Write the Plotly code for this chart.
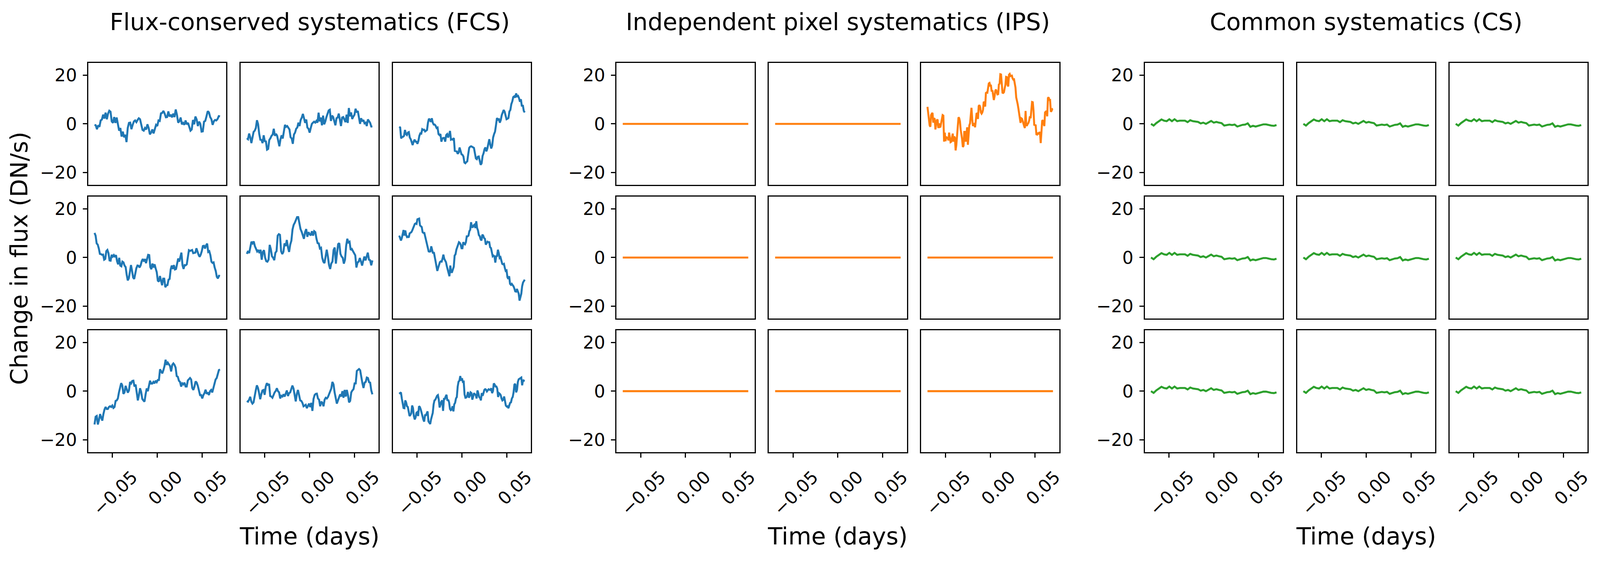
import numpy as np
import plotly.graph_objects as go

# ---------------- data ----------------
group_titles = ["Flux-conserved systematics (FCS)",
                "Independent pixel systematics (IPS)",
                "Common systematics (CS)"]
x_tick_vals = [-0.05, 0.0, 0.05]
y_tick_vals = [-20, 0, 20]
t_start, t_end = -0.07, 0.07

fcs_r1c1 = [-0.4,-0.6,-2.2,-0.6,-1.2,1.4,1.8,3.8,2.2,4.6,1.9,4.2,5.4,5.0,1.0,0.4,2.8,0.4,2.6,-0.6,-2.8,-1.7,-5.2,-3.2,-5.5,-4.5,-7.5,-1.7,0.4,0.5,-2.2,-0.4,1.0,1.4,0.7,1.6,2.3,1.9,-0.6,-2.5,-2.8,-1.7,-2.3,-0.2,-1.7,-4.3,-3.6,-2.3,-3.9,-2.0,-0.4,-0.9,1.4,1.2,4.3,4.5,5.3,4.2,2.7,2.8,5.1,3.0,3.8,2.7,4.2,2.8,5.9,3.7,0.5,1.1,2.6,-0.2,0.4,-0.4,1.4,-0.2,0.4,-1.2,-2.8,-2.3,1.6,-0.2,3.0,1.8,-0.9,0.9,0.0,-3.2,-3.1,0.9,1.2,3.1,5.2,4.7,2.8,1.9,-0.4,1.1,1.6,1.4,2.0,3.2,3.1]
fcs_r1c2 = [-5.9,-6.3,-4.0,-5.5,-7.9,-5.5,-3.3,-2.8,-1.7,1.5,-0.1,-4.1,-6.5,-6.6,-7.9,-4.7,-7.1,-7.2,-10.6,-10.3,-6.6,-5.9,-4.9,-4.4,-2.0,-4.9,-4.1,-4.9,-7.4,-9.2,-6.3,-4.7,-6.0,-3.1,-0.4,-1.2,-0.9,-1.6,-2.3,-5.5,-6.0,-8.2,-4.4,-3.6,-2.0,-1.5,0.5,-0.9,1.6,2.6,4.1,2.3,0.4,1.8,-1.5,-2.0,-3.6,-1.7,0.0,0.5,0.9,0.5,1.2,0.5,4.6,1.0,2.6,-0.6,3.4,-0.2,1.0,2.8,4.1,5.5,5.8,1.2,3.4,2.8,1.1,-0.6,2.3,2.6,4.2,2.0,-0.9,2.6,2.8,1.8,0.7,3.8,0.4,6.5,3.1,4.7,2.0,3.0,3.7,6.2,4.7,5.3,2.6,0.0,2.3,1.0,1.6,0.2,0.5,-0.9,1.8,1.1,0.4,-1.1,-1.1]
fcs_r1c3 = [-1.2,-1.5,-6.0,-5.3,-5.3,-4.9,-2.5,-4.2,-4.6,-3.6,-3.4,-5.6,-6.3,-7.3,-8.7,-7.3,-6.5,-7.3,-7.3,-8.2,-7.0,-4.9,-3.9,-4.0,-2.2,-2.5,-2.4,-3.1,-2.9,-2.5,0.5,2.1,1.7,0.8,2.3,0.5,-0.3,-0.3,-0.8,-1.7,-1.5,-4.2,-4.6,-4.2,-7.3,-6.0,-5.8,-5.8,-7.3,-4.6,-4.2,-5.6,-4.5,-2.9,-6.5,-6.3,-6.5,-5.8,-11.1,-11.3,-11.3,-12.3,-11.8,-9.7,-10.8,-12.5,-12.7,-13.4,-15.9,-16.2,-15.7,-15.4,-12.5,-9.9,-9.4,-9.2,-9.4,-9.7,-9.9,-12.1,-14.2,-14.5,-13.5,-13.4,-15.2,-16.8,-16.2,-13.2,-12.1,-10.4,-9.7,-11.3,-10.1,-8.4,-6.3,-8.4,-10.1,-9.0,-5.6,-4.2,-3.2,-0.5,2.4,1.7,1.9,0.5,1.6,3.6,4.5,5.7,5.0,3.1,1.9,2.1,2.4,5.1,5.7,8.1,9.2,11.0,11.3,10.8,12.5,11.3,11.5,10.6,9.1,10.1,7.2,7.7,5.3,4.7]
fcs_r2c1 = [10.1,9.0,5.8,5.3,3.7,1.5,1.4,1.1,1.2,-0.9,-0.6,2.6,3.1,1.8,-1.2,-1.3,1.1,0.4,1.0,0.2,1.0,-1.5,-2.8,-0.1,-3.3,-3.6,-1.7,-2.0,-3.3,-3.9,-7.1,-9.4,-8.5,-6.0,-3.1,-5.5,-8.2,-8.8,-6.6,-4.4,-3.3,-3.4,-4.1,-3.2,-1.5,-0.6,-1.6,-0.6,-2.3,-0.5,1.1,1.0,-3.9,-4.8,-2.5,-4.1,-2.8,-4.5,-6.0,-9.5,-9.9,-7.6,-9.9,-11.4,-8.7,-8.7,-12.2,-11.4,-11.3,-9.1,-8.8,-4.9,-3.3,-4.7,-3.1,-4.9,-4.7,-2.3,-0.4,-1.7,-0.2,2.0,-3.1,-4.7,-3.1,-3.2,-2.8,0.4,3.0,2.7,2.8,3.1,1.8,2.0,2.0,3.8,2.2,1.1,0.3,1.2,2.6,4.7,4.8,3.7,5.0,5.7,2.3,2.6,1.0,-1.7,-2.2,-2.0,-4.1,-5.5,-7.9,-8.6,-7.5,-7.6]
fcs_r2c2 = [1.5,2.7,1.8,4.2,6.5,5.8,6.6,4.7,3.7,2.5,3.1,1.8,3.2,-0.9,2.3,3.0,-0.1,-1.5,-1.7,-0.9,5.2,3.4,0.5,-0.1,-1.1,2.0,2.6,9.0,9.6,9.3,2.6,1.4,2.3,5.8,4.7,7.2,4.2,2.3,5.3,6.9,11.5,13.4,14.3,15.5,16.6,16.6,14.1,11.7,10.6,9.1,7.7,10.4,11.7,8.5,10.4,9.6,9.1,10.8,9.0,10.8,10.4,7.7,5.9,5.8,3.7,4.0,0.0,-1.7,-2.3,0.4,3.2,0.4,-3.1,-4.7,-2.4,-1.7,3.1,4.1,-2.5,1.8,5.5,5.9,1.5,0.4,-0.1,-2.5,-0.9,4.8,7.7,6.2,6.5,3.1,3.5,2.6,1.5,0.9,-4.1,-2.0,-1.7,-0.2,-1.6,-3.3,-1.3,0.4,-1.2,0.4,2.0,-0.9,-1.1,-3.2,-1.2]
fcs_r2c3 = [9.0,7.7,7.0,8.0,9.4,11.3,9.0,11.1,9.2,8.4,8.6,8.2,9.9,10.1,10.4,11.1,12.0,12.9,13.8,14.0,13.8,15.7,15.9,16.0,13.2,12.8,12.5,10.4,10.1,10.1,8.7,7.0,6.1,3.9,2.5,2.4,2.5,4.6,3.2,1.7,2.2,0.6,-1.6,-3.6,-5.5,-4.2,-2.6,-1.9,-1.6,-1.7,-0.5,1.2,-0.5,-1.2,-1.9,-3.6,-4.9,-5.7,-7.7,-3.3,-6.0,-6.0,-5.1,-3.8,0.8,1.3,3.2,4.2,5.4,6.3,6.0,5.3,3.8,3.8,6.3,5.6,5.4,6.3,8.7,8.7,9.0,10.8,11.4,14.5,12.5,12.5,13.2,13.5,12.1,14.9,12.1,11.1,9.2,8.8,7.5,7.0,9.4,9.0,8.0,7.7,5.3,6.1,6.5,6.3,6.3,4.2,3.9,2.2,0.5,0.8,0.5,-2.1,0.5,0.6,3.2,1.8,-0.2,0.1,-1.6,-2.6,-2.8,-2.6,-4.3,-5.5,-5.3,-8.1,-8.8,-7.7,-10.8,-11.2,-10.8,-11.2,-11.8,-12.7,-13.9,-14.0,-12.9,-13.9,-14.8,-17.7,-16.3,-14.9,-11.8,-10.3,-9.7,-9.1]
fcs_r3c1 = [-13.7,-10.5,-10.2,-13.7,-11.8,-9.4,-10.8,-12.1,-9.4,-7.5,-6.5,-7.3,-7.3,-6.5,-6.2,-6.5,-5.9,-6.9,-6.5,-4.0,-3.8,-3.0,-0.5,1.1,3.3,2.4,-1.1,-0.5,2.2,0.8,-0.6,0.3,3.8,3.2,4.2,4.3,1.9,2.7,-0.8,-3.8,-1.6,1.2,-0.3,-3.2,-3.8,-4.3,-1.3,1.1,0.0,2.7,4.3,3.1,3.1,3.8,3.2,4.3,3.7,4.6,4.6,9.0,8.1,7.3,8.6,10.3,12.9,10.8,11.7,10.8,10.3,8.1,10.8,11.4,10.8,9.7,6.2,5.9,4.3,3.8,1.9,3.2,2.8,3.5,1.9,1.9,4.4,4.9,5.4,4.8,1.3,0.5,1.9,4.0,3.5,2.2,0.0,-1.6,-1.6,-3.0,-1.6,-0.8,0.6,-1.1,-0.5,-1.6,0.0,0.5,-0.5,1.3,3.5,4.8,5.4,7.5,8.7,8.9]
fcs_r3c2 = [-4.0,-4.3,-3.5,-2.3,-4.3,-5.1,-4.6,-1.6,0.3,2.4,1.3,-0.8,-3.3,-1.3,0.3,0.5,-1.5,1.9,3.3,2.3,3.0,-2.0,-2.2,-2.7,-1.3,-0.5,0.1,1.2,0.0,-0.5,-3.0,-1.9,-2.2,-1.3,-2.2,-0.8,0.3,-2.0,-0.8,-0.5,1.1,2.3,1.1,-2.2,-4.2,-1.1,0.5,-1.6,-3.8,-4.0,-4.8,-6.2,-5.9,-5.6,-7.0,-5.9,-5.1,-6.5,-4.8,-8.1,-3.2,-1.6,-1.1,-1.0,-3.0,-3.5,-6.2,-4.3,-4.8,-6.2,-3.5,-2.7,-3.0,-2.4,-1.1,-0.3,1.1,3.8,2.8,-0.5,-2.7,-5.1,-3.8,-2.7,-1.3,-2.2,0.0,-2.7,0.5,-2.2,0.5,-1.6,-4.6,-4.0,-0.5,0.3,0.8,3.2,3.2,8.3,8.6,9.1,8.6,5.6,3.3,1.3,3.5,3.8,5.6,5.4,3.7,3.5,0.3,-1.3]
fcs_r3c3 = [-1.1,-0.8,-0.5,-3.0,-5.4,-6.9,-7.0,-3.8,-4.6,-6.2,-6.5,-8.9,-10.2,-9.8,-9.1,-5.9,-6.9,-10.2,-11.6,-10.8,-8.9,-8.6,-10.2,-6.2,-6.5,-7.5,-8.6,-10.2,-11.6,-12.5,-9.9,-9.9,-9.1,-8.3,-12.4,-12.9,-13.5,-11.6,-10.2,-8.9,-5.4,-3.8,-3.5,-2.4,-1.9,-1.6,-3.5,-6.7,-5.4,-4.3,-3.8,-8.1,-3.2,-3.2,-2.2,-1.5,-3.9,-3.5,-4.6,-7.3,-7.8,-7.5,-6.2,-8.3,-5.4,-4.8,-3.0,-2.4,1.9,3.9,4.3,6.2,4.3,5.3,3.8,3.9,-1.3,-2.7,-2.6,-1.9,-0.3,-2.7,-1.9,-0.5,-0.8,-3.5,-2.2,-0.8,-1.3,-1.6,-3.0,0.3,-0.8,-2.4,-2.7,-3.8,-0.8,-1.9,-0.8,0.5,0.8,0.6,-0.1,0.3,0.8,0.6,0.5,1.2,-0.8,0.0,3.2,2.7,1.9,1.9,1.1,-2.4,-0.8,-1.1,-1.6,-3.0,-3.8,-3.5,-2.2,-4.0,-5.9,-6.3,-6.2,-7.0,-5.9,-4.8,-4.6,-3.0,-2.4,-0.5,2.7,3.0,-0.5,0.5,3.8,4.9,5.1,5.4,5.6,2.4,4.6,4.3,4.2]

ips_r1c3 = [7.0,4.2,1.0,-0.6,-1.2,3.6,4.2,4.5,0.5,2.3,2.0,-2.3,-0.1,1.5,1.8,-1.7,0.2,-1.3,-1.2,0.4,3.0,3.6,3.4,-7.3,-3.6,-7.1,-5.2,-6.0,-5.5,-6.8,-3.6,-5.5,-7.5,-7.3,-6.0,-4.0,-7.3,-5.2,-5.7,-10.9,-8.7,-4.7,-0.9,2.7,2.3,1.0,-2.3,-3.9,-6.3,-9.5,-9.0,-3.3,-3.3,-7.3,-3.9,-1.4,-8.6,-2.8,-0.6,0.2,3.1,6.6,2.0,-0.9,0.2,-0.1,-1.4,1.2,4.2,4.3,2.0,7.3,7.7,7.0,4.7,4.2,4.7,5.8,9.1,8.7,7.1,12.7,12.9,12.8,15.2,16.6,16.8,15.7,15.7,13.3,13.8,10.9,9.8,11.3,13.6,14.1,13.3,12.1,12.2,16.2,16.5,20.4,20.3,15.4,12.8,12.7,13.0,14.6,16.0,19.3,19.2,16.0,15.4,20.2,20.5,19.6,19.7,19.8,18.7,18.2,18.3,16.5,14.9,10.9,9.8,8.2,6.4,3.9,2.0,0.4,2.3,2.1,1.2,-0.1,-0.9,-1.7,5.3,-0.6,-0.6,0.0,0.4,1.4,3.1,2.3,7.4,9.0,8.9,5.5,-0.4,-0.6,-0.6,-4.3,-4.4,-3.6,-4.3,-3.6,-3.6,-7.9,-4.1,1.2,1.5,0.2,-0.9,4.7,5.0,5.3,3.1,10.6,10.9,9.8,9.8,5.0,5.3,6.1,6.2]
ips_flat = [0.0, 0.0]

cs_common = [0.0,-0.7,0.3,1.1,1.8,1.3,1.1,1.9,1.1,1.9,1.1,1.3,1.2,1.3,0.7,1.5,1.1,0.9,0.8,0.2,0.5,0.0,0.5,1.2,0.5,0.8,0.5,0.3,-0.7,-0.4,-0.3,-0.5,-0.3,-1.1,-0.7,-0.4,-0.3,0.2,-1.2,-0.8,-1.1,-0.8,-0.4,-0.2,-0.2,-0.5,-0.7,-0.8,-0.5]

fcs_grid = [[fcs_r1c1, fcs_r1c2, fcs_r1c3],
            [fcs_r2c1, fcs_r2c2, fcs_r2c3],
            [fcs_r3c1, fcs_r3c2, fcs_r3c3]]
ips_grid = [[ips_flat, ips_flat, ips_r1c3],
            [ips_flat, ips_flat, ips_flat],
            [ips_flat, ips_flat, ips_flat]]
cs_grid = [[cs_common] * 3 for _ in range(3)]

group_grids = [fcs_grid, ips_grid, cs_grid]
group_colors = ["#1f77b4", "#ff7f0e", "#2ca02c"]

# ---------------- layout geometry (reference pixels -> paper fractions) ----------------
REF_W, REF_H = 4460, 1438
MARGIN = 9                      # body margin of the page, in reference pixels
PX = 1 / 1.09                   # css-px per reference pixel


def fx(px):
    return (px - MARGIN) / (REF_W - 2 * MARGIN)


def fy(px):
    return 1 - (px - MARGIN) / (REF_H - 2 * MARGIN)


group_left = [247, 1724, 3201]
col_step = 426
panel_w = 386
row_top = [162, 503.5, 845]
panel_h = 311
FONT = "DejaVu Sans"
TICK_SIZE = 49 * PX
BIG_SIZE = 66 * PX
LW = 5.5 * PX
FRAME = 3 * PX
TLEN = 12 * PX
SHIFT = int(round(56 * PX))
STANDOFF = int(round(6 * PX))

fig = go.Figure()
layout = {}
k = 0
for g in range(3):
    for r in range(3):
        for c in range(3):
            k += 1
            xa = "xaxis" if k == 1 else f"xaxis{k}"
            ya = "yaxis" if k == 1 else f"yaxis{k}"
            xr = "x" if k == 1 else f"x{k}"
            yr = "y" if k == 1 else f"y{k}"
            vals = group_grids[g][r][c]
            t = np.linspace(t_start, t_end, len(vals))
            fig.add_trace(go.Scatter(x=t, y=vals, mode="lines",
                                     line=dict(color=group_colors[g], width=LW),
                                     xaxis=xr, yaxis=yr, showlegend=False,
                                     hoverinfo="skip"))
            left_px = group_left[g] + c * col_step
            bottom = (r == 2)
            left = (c == 0)
            layout[xa] = dict(domain=[fx(left_px), fx(left_px + panel_w)], anchor=yr,
                              range=[-0.077, 0.077],
                              showline=True, mirror=True, linecolor="black", linewidth=FRAME,
                              showgrid=False, zeroline=False,
                              ticks="outside" if bottom else "", ticklen=TLEN, tickwidth=FRAME,
                              tickcolor="black",
                              tickvals=x_tick_vals, tickformat=".2f",
                              showticklabels=bottom, tickangle=-45,
                              ticklabelshift=SHIFT, ticklabelstandoff=STANDOFF,
                              tickfont=dict(family=FONT, size=TICK_SIZE, color="black"))
            layout[ya] = dict(domain=[fy(row_top[r] + panel_h), fy(row_top[r])], anchor=xr,
                              range=[-25, 25],
                              showline=True, mirror=True, linecolor="black", linewidth=FRAME,
                              showgrid=False, zeroline=False,
                              ticks="outside" if left else "", ticklen=TLEN, tickwidth=FRAME,
                              tickcolor="black",
                              tickvals=y_tick_vals, showticklabels=left,
                              ticklabelstandoff=STANDOFF,
                              tickfont=dict(family=FONT, size=TICK_SIZE, color="black"))

annotations = []
for g in range(3):
    cx = fx(group_left[g] + (col_step * 2 + panel_w) / 2)
    annotations.append(dict(text=group_titles[g], x=cx, y=fy(57), xref="paper", yref="paper",
                            xanchor="center", yanchor="middle", showarrow=False,
                            font=dict(family=FONT, size=BIG_SIZE, color="black")))
    annotations.append(dict(text="Time (days)", x=cx, y=fy(1371), xref="paper", yref="paper",
                            xanchor="center", yanchor="middle", showarrow=False,
                            font=dict(family=FONT, size=BIG_SIZE, color="black")))
annotations.append(dict(text="Change in flux (DN/s)", x=fx(54), y=fy(661),
                        xref="paper", yref="paper", xanchor="center", yanchor="middle",
                        textangle=-90, showarrow=False,
                        font=dict(family=FONT, size=BIG_SIZE, color="black")))

fig.update_layout(autosize=True, margin=dict(l=0, r=0, t=0, b=0),
                  paper_bgcolor="white", plot_bgcolor="white",
                  annotations=annotations, showlegend=False, **layout)

fig.write_html("out.html", default_width="calc(100vw - 16px)",
               default_height="calc(100vh - 16px)", config={"responsive": True})
